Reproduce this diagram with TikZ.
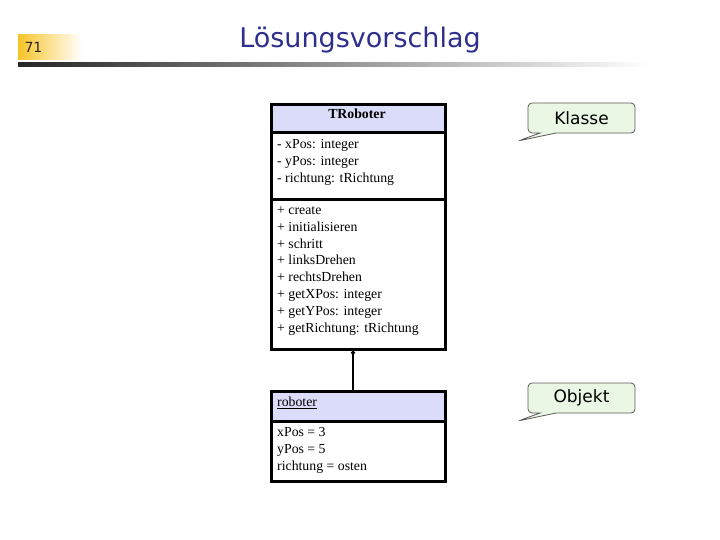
\documentclass[tikz,border=0pt]{standalone}
\usepackage{fontspec}
\setmainfont{Liberation Serif}
\newfontfamily\sansf{DejaVu Sans}
\usetikzlibrary{shapes.callouts,arrows.meta}
\definecolor{navy}{RGB}{46,46,140}
\definecolor{headfill}{RGB}{218,220,250}
\definecolor{callfill}{RGB}{234,247,228}
\definecolor{callline}{RGB}{90,90,90}
\definecolor{numyellow}{RGB}{247,196,40}
\tikzset{
  umlbox/.style={draw=black, line width=2.8pt, minimum width=174pt, inner sep=0pt, anchor=north west},
  txt/.style={font=\fontsize{13.8}{16}\selectfont, inner sep=0pt, anchor=base west},
  callbox/.style={rectangle callout, draw=callline, line width=0.8pt, fill=callfill,
    rounded corners=4pt, minimum width=107pt, minimum height=30pt, inner sep=0pt,
    callout pointer width=16pt, font=\sansf\fontsize{17}{19}\selectfont},
}
\begin{document}
\begin{tikzpicture}[x=1pt,y=-1pt]
\useasboundingbox (0,0) rectangle (720,540);
% header band
\shade[left color=numyellow, right color=white] (18,35) rectangle (82,60);
\shade[left color=black!85, right color=white] (18,63) rectangle (650,67);
\node[font=\sansf\fontsize{14}{16}\selectfont, text=black!85] (num) at (33.5,47) {71};
\node[font=\sansf\fontsize{27}{30}\selectfont, text=navy] (title) at (360,40) {Lösungsvorschlag};
% class box
\node[umlbox, fill=headfill, minimum height=28pt] (clshead) at (270,103) {};
\node[umlbox, fill=white, minimum height=67pt] (clsattr) at (270,131) {};
\node[umlbox, fill=white, minimum height=150pt] (clsmeth) at (270,198) {};
\node[font=\bfseries\fontsize{13.8}{16}\selectfont, inner sep=0pt, anchor=base] (clsname) at (357,118.5) {TRoboter};
\foreach \t [count=\i] in {- xPos: integer, - yPos: integer, - richtung: tRichtung}
  \node[txt] (a\i) at (277,{148.5+16.8*(\i-1)}) {\t};
\foreach \t [count=\i] in {+ create, + initialisieren, + schritt, + linksDrehen, + rechtsDrehen,
  + getXPos: integer, + getYPos: integer, + getRichtung: tRichtung}
  \node[txt] (m\i) at (277,{214.5+16.8*(\i-1)}) {\t};
% object box
\node[umlbox, fill=headfill, minimum height=30pt] (objhead) at (270,390) {};
\node[umlbox, fill=white, minimum height=60pt] (objattr) at (270,420) {};
\node[txt] (objname) at (277,406.5) {\underline{roboter}};
\foreach \t [count=\i] in {xPos = 3, yPos = 5, richtung = osten}
  \node[txt] (o\i) at (277,{436.5+16.8*(\i-1)}) {\t};
% connector
\draw[line width=2.6pt, -{Circle[length=4pt]}] (objhead.north -| 353,0) -- (clsmeth.south -| 353,0);
% callouts
\node[callbox, callout absolute pointer={(518,141)}] (klasse) at (581.5,118) {Klasse};
\node[callbox, callout absolute pointer={(518,421)}] (objekt) at (581.5,398) {Objekt};
\end{tikzpicture}
\end{document}
